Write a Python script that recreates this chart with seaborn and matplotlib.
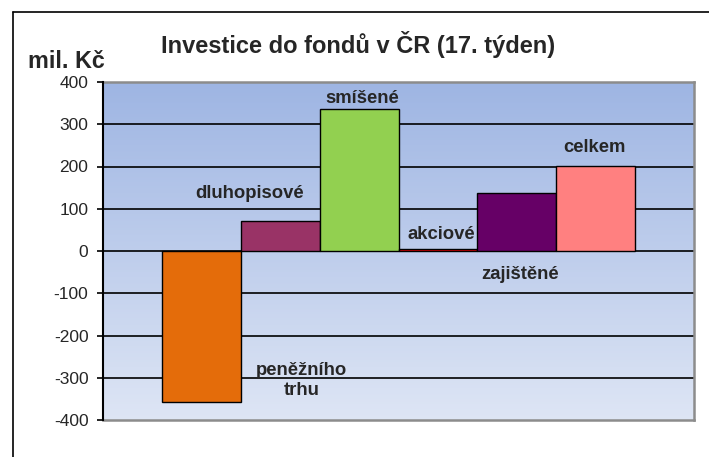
import numpy as np
import pandas as pd
import matplotlib
matplotlib.use("Agg")
import matplotlib.pyplot as plt
import seaborn as sns
from matplotlib.lines import Line2D

# data (mil. Kč)
categories = ["peněžního trhu", "dluhopisové", "smíšené", "akciové", "zajištěné", "celkem"]
values = [-358, 72, 336, 5, 137, 202]
colors = ["#E46C0A", "#993366", "#92D050", "#FF0000", "#660066", "#FF8080"]
yticks = [-400, -300, -200, -100, 0, 100, 200, 300, 400]

# where Excel put the data labels (x in category units, y = baseline in data units)
label_text = ["peněžního", "trhu", "dluhopisové", "smíšené", "akciové", "zajištěné", "celkem"]
label_x = [1.27, 1.27, 0.605, 2.045, 3.04, 4.04, 4.99]
label_y = [-293, -341, 125, 351, 28, -66, 235]

sns.set_style("white")
plt.rcParams["font.family"] = ["Liberation Sans", "DejaVu Sans"]

fig = plt.figure(figsize=(7.09, 4.57), dpi=100)
ax = fig.add_axes([103 / 709, 1 - 420 / 457, (694 - 103) / 709, (420 - 82) / 457])

df = pd.DataFrame({"kategorie": categories, "hodnota": values})

# blue gradient background of the plot area
grad = np.linspace(0, 1, 256).reshape(-1, 1)
top = np.array([0.62, 0.71, 0.89])
bottom = np.array([0.87, 0.90, 0.96])
img = top + (bottom - top) * grad[..., None]
ax.imshow(img, extent=[0, 1, 0, 1], transform=ax.transAxes, aspect="auto", zorder=0)

# gridlines
for t in [-300, -200, -100, 0, 100, 200, 300]:
    ax.axhline(t, color="black", lw=1.2, zorder=1)

sns.barplot(data=df, x="kategorie", y="hodnota", hue="kategorie", palette=colors,
            width=1.0, saturation=1, edgecolor="black", linewidth=1.0,
            legend=False, ax=ax, zorder=2)

ax.set_xlim(-1.25, 6.25)
ax.set_ylim(-400, 400)
ax.set_yticks(yticks)
ax.set_yticklabels([str(t) for t in yticks], fontsize=12.5)
ax.set_xticks([])
ax.set_xlabel("")
ax.set_ylabel("")
ax.tick_params(axis="y", direction="out", length=4, width=1.2, pad=6.5, left=True, color="black")

for side in ["top", "right", "bottom"]:
    ax.spines[side].set_color("#8c8c8c")
    ax.spines[side].set_linewidth(1.8)
    ax.spines[side].set_visible(True)
ax.spines["left"].set_color("black")
ax.spines["left"].set_linewidth(1.5)
ax.spines["left"].set_zorder(5)

for txt, x, y in zip(label_text, label_x, label_y):
    ax.text(x, y, txt, ha="center", va="baseline", fontsize=13.3, fontweight="bold", zorder=6)

fig.text(358 / 709, 1 - 52.7 / 457, "Investice do fondů v ČR (17. týden)",
         ha="center", va="baseline", fontsize=17, fontweight="bold")
fig.text(28 / 709, 1 - 68 / 457, "mil. Kč", ha="left", va="baseline",
         fontsize=16.8, fontweight="bold")

# outer chart frame (cropped in the reference: only left and top edges visible)
fig.add_artist(Line2D([13 / 709, 13 / 709], [0, 1 - 11.7 / 457], transform=fig.transFigure,
                      color="black", lw=1.2))
fig.add_artist(Line2D([13 / 709, 1], [1 - 11.7 / 457, 1 - 11.7 / 457], transform=fig.transFigure,
                      color="black", lw=1.2))

fig.savefig("out.png", dpi=100)
